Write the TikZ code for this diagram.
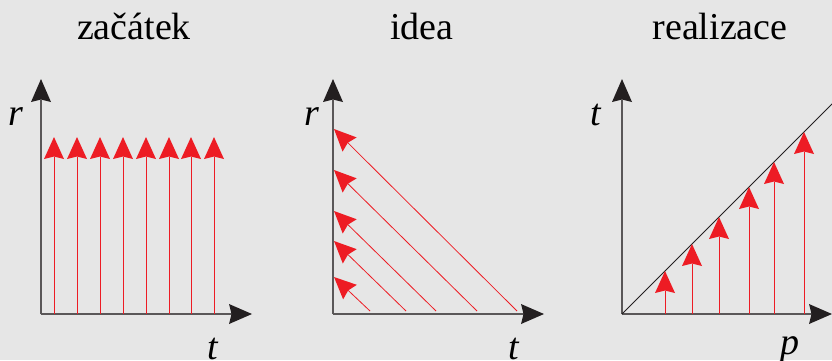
\documentclass[tikz,border=0pt]{standalone}
\usepackage{fontspec}
\setmainfont{Liberation Serif}
\usetikzlibrary{arrows.meta}
\definecolor{bg}{HTML}{E6E6E6}
\definecolor{axred}{HTML}{ED1C24}
\definecolor{axblack}{HTML}{231F20}
\tikzset{
  axisline/.style={draw=axblack!75, line width=1.1pt, -{Stealth[length=23pt,width=20pt,inset=2.5pt,color=axblack,fill=axblack,line width=0pt]}},
  redarrow/.style={draw=axred, line width=0.8pt, -{Stealth[length=22pt,width=20pt,inset=2.5pt,fill=axred,line width=0pt]}},
  title/.style={font=\rmfamily\fontsize{38}{40}\selectfont, anchor=base, inner sep=0pt},
  axlabel/.style={font=\rmfamily\fontsize{38}{40}\selectfont\itshape, anchor=base, inner sep=0pt},
  diag/.style={draw=axblack, line width=0.8pt}
}
\begin{document}
\begin{tikzpicture}[x=1pt,y=-1pt]
\useasboundingbox (0,0) rectangle (832,360);
\fill[bg] (0,0) rectangle (832,360);
\clip (0,0) rectangle (832,360);
% titles
\node[title] (t1) at (134,39) {začátek};
\node[title] (t2) at (422,39) {idea};
\node[title] (t3) at (720,39) {realizace};
% ---------- panel 1
\coordinate (o1) at (41,314);
\coordinate (y1) at (41,79);
\coordinate (x1) at (252,314);
\draw[axisline] (o1) -- (y1);
\draw[axisline] (o1) -- (x1);
\foreach \x [count=\i] in {54,77,100,123,146,169,191,214}{
  \coordinate (a1s\i) at (\x,314);
  \coordinate (a1e\i) at (\x,137);
  \draw[redarrow] (a1s\i) -- (a1e\i);
}
\node[axlabel] (r1) at (16,125) {r};
\node[axlabel] (tl1) at (213,359) {t};
% ---------- panel 2
\coordinate (o2) at (333,314);
\coordinate (y2) at (333,79);
\coordinate (x2) at (544,314);
\draw[axisline] (o2) -- (y2);
\draw[axisline] (o2) -- (x2);
\foreach \s/\e [count=\i] in {370/277,406/241,436/211,477/170,517/129}{
  \coordinate (a2s\i) at (\s,311);
  \coordinate (a2e\i) at (334,\e);
  \draw[redarrow] (a2s\i) -- (a2e\i);
}
\node[axlabel] (r2) at (312,125) {r};
\node[axlabel] (tl2) at (514,359) {t};
% ---------- panel 3
\coordinate (o3) at (622,314);
\coordinate (y3) at (622,79);
\coordinate (x3) at (832,314);
\coordinate (d3) at (880,56);
\draw[axisline] (o3) -- (y3);
\draw[axisline] (o3) -- (x3);
\draw[diag] (o3) -- (d3);
\foreach \x [count=\i] in {665,692,719,749,774,804}{
  \coordinate (a3s\i) at (\x,314);
  \coordinate (a3e\i) at (\x,{314-(\x-622)});
  \draw[redarrow] (a3s\i) -- (a3e\i);
}
\node[axlabel] (tl3) at (596,125) {t};
\node[axlabel] (p3) at (790,354) {p};
\end{tikzpicture}
\end{document}
